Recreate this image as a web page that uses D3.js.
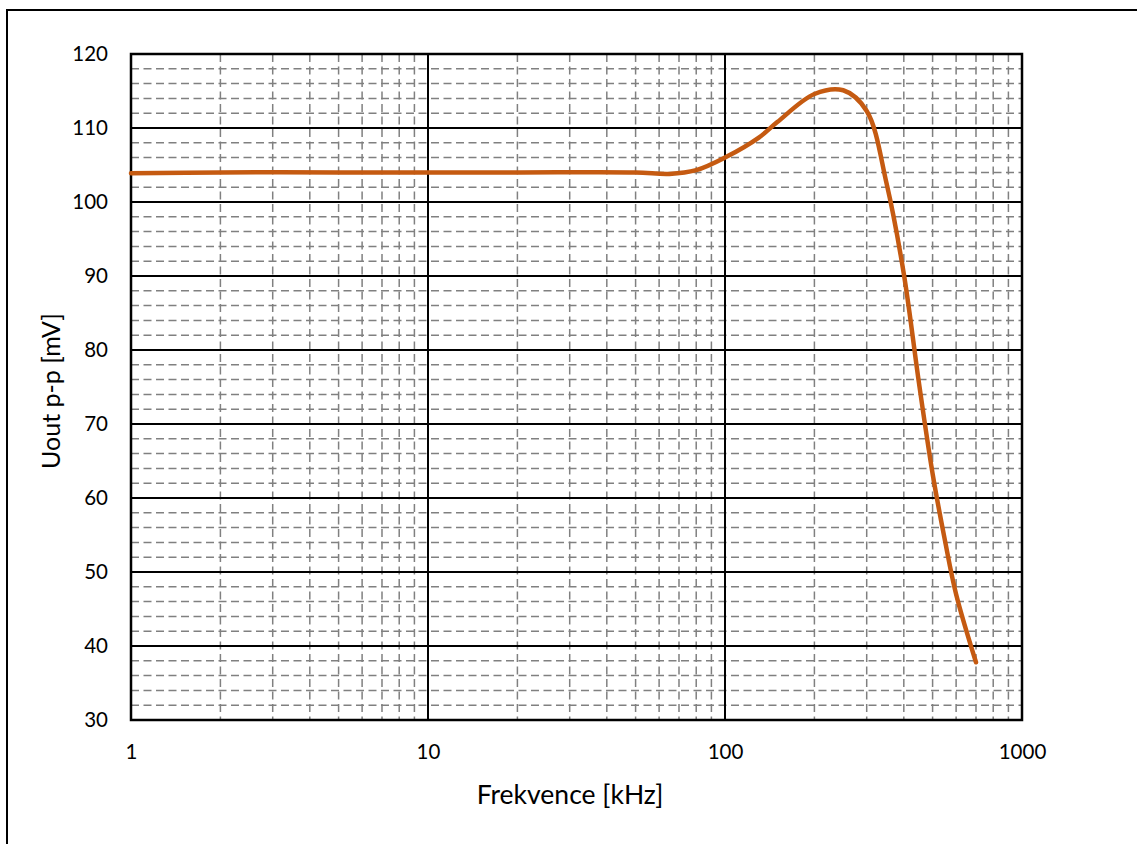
<!DOCTYPE html>
<html>
<head>
<meta charset="utf-8">
<script src="https://cdn.jsdelivr.net/npm/d3@7"></script>
<style>
  html, body { margin: 0; padding: 0; background: #fff; }
  svg { display: block; }
  text { font-family: Lato, "Open Sans", sans-serif; fill: #000; }
</style>
</head>
<body>
<svg id="chart" width="1137" height="844"></svg>
<script>
// Measured output amplitude versus frequency
const freqKHz = [1, 2, 5, 10, 20, 50, 65, 80, 100, 130, 150, 200, 250, 300, 350, 400, 450, 500, 550, 600, 700];
const uoutMV  = [103.9, 104, 104, 104, 104, 104, 103.8, 104.3, 106, 108.7, 110.8, 114.6, 115.1, 112.3, 102.5, 90.3, 75.5, 63.3, 54.3, 47, 37.8];

const xTicks = [1, 10, 100, 1000];
const yTicks = [30, 40, 50, 60, 70, 80, 90, 100, 110, 120];
const xTitle = "Frekvence [kHz]";
const yTitle = "Uout p-p [mV]";

const svg = d3.select("#chart");
const plot = { left: 131, top: 54, right: 1022, bottom: 720 };

const x = d3.scaleLog().domain([1, 1000]).range([plot.left, plot.right]);
const y = d3.scaleLinear().domain([30, 120]).range([plot.bottom, plot.top]);

// Outer chart frame
svg.append("rect")
  .attr("x", 7).attr("y", 10)
  .attr("width", 1150).attr("height", 860)
  .attr("fill", "none").attr("stroke", "#000").attr("stroke-width", 2);

// Minor grid: 2..9 within each decade, every 2 mV
const minorX = [];
for (let d = 1; d < 1000; d *= 10) for (let k = 2; k <= 9; k++) minorX.push(d * k);
const minorY = d3.range(30, 120.01, 2).filter(v => v % 10 !== 0);

const grid = svg.append("g");
grid.selectAll(".mx").data(minorX).join("line")
  .attr("x1", d => x(d)).attr("x2", d => x(d))
  .attr("y1", plot.top).attr("y2", plot.bottom)
  .attr("stroke", "#808080").attr("stroke-width", 1.5).attr("stroke-dasharray", "8,4.5");
grid.selectAll(".my").data(minorY).join("line")
  .attr("x1", plot.left).attr("x2", plot.right)
  .attr("y1", d => y(d)).attr("y2", d => y(d))
  .attr("stroke", "#808080").attr("stroke-width", 1.5).attr("stroke-dasharray", "8,4.5");

// Major grid
grid.selectAll(".Mx").data(xTicks).join("line")
  .attr("x1", d => x(d)).attr("x2", d => x(d))
  .attr("y1", plot.top).attr("y2", plot.bottom)
  .attr("stroke", "#000").attr("stroke-width", 2);
grid.selectAll(".My").data(yTicks).join("line")
  .attr("x1", plot.left).attr("x2", plot.right)
  .attr("y1", d => y(d)).attr("y2", d => y(d))
  .attr("stroke", "#000").attr("stroke-width", 2);

// Plot border
svg.append("rect")
  .attr("x", plot.left).attr("y", plot.top)
  .attr("width", plot.right - plot.left).attr("height", plot.bottom - plot.top)
  .attr("fill", "none").attr("stroke", "#000").attr("stroke-width", 2.5);

// Axes (labels only; lines come from the grid)
const xAxis = svg.append("g")
  .attr("transform", `translate(0,${plot.bottom})`)
  .call(d3.axisBottom(x).tickValues(xTicks).tickFormat(d3.format("d")).tickSize(0).tickPadding(24));
const yAxis = svg.append("g")
  .attr("transform", `translate(${plot.left},0)`)
  .call(d3.axisLeft(y).tickValues(yTicks).tickSize(0).tickPadding(23));
[xAxis, yAxis].forEach(g => {
  g.select(".domain").remove();
  g.selectAll("text").style("font-size", "20.5px").style("font-family", "Lato, 'Open Sans', sans-serif").attr("fill", "#000");
});

// Data curve
const line = d3.line()
  .x((d, i) => x(freqKHz[i]))
  .y(d => y(d))
  .curve(d3.curveCatmullRom.alpha(0.5));
svg.append("path")
  .datum(uoutMV)
  .attr("d", line)
  .attr("fill", "none")
  .attr("stroke", "#C55A11")
  .attr("stroke-width", 4.5)
  .attr("stroke-linecap", "round")
  .attr("stroke-linejoin", "round");

// Axis titles
svg.append("text")
  .attr("x", 570).attr("y", 804)
  .attr("text-anchor", "middle")
  .style("font-size", "26.5px")
  .text(xTitle);
svg.append("text")
  .attr("transform", "translate(60,391) rotate(-90)")
  .attr("text-anchor", "middle")
  .style("font-size", "25px")
  .text(yTitle);
</script>
</body>
</html>
